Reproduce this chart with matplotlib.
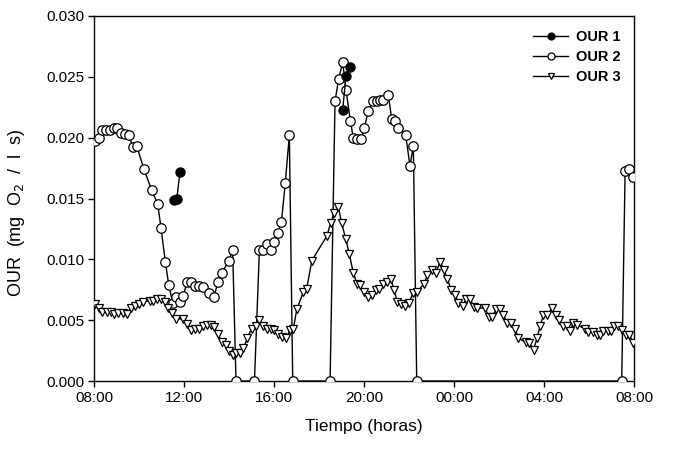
import numpy as np
import matplotlib.pyplot as plt

plt.rcParams['font.family'] = ['Liberation Sans', 'DejaVu Sans']

# Horas transcurridas desde las 08:00
t_our1 = [3.55, 3.68, 3.82, np.nan, 11.05, 11.20, 11.39]
our1 = [0.0149, 0.0150, 0.0172, np.nan, 0.0223, 0.0251, 0.0258]

t_our2 = [0.04, 0.22, 0.37, 0.53, 0.71, 0.89, 1.04, 1.18, 1.36, 1.56, 1.72, 1.90,
          2.22, 2.56, 2.83, 2.98, 3.17, 3.32, 3.50, 3.64, 3.82, 3.97, 4.12, 4.31,
          4.49, 4.65, 4.83, 5.12, 5.33, 5.50, 5.68, 6.00, 6.16, 6.31, 7.13, 7.35,
          7.53, 7.70, 7.85, 8.00, 8.18, 8.33, 8.50, 8.68, 8.83, 10.49, 10.71, 10.87,
          11.05, 11.20, 11.39, 11.52, 11.70, 11.87, 12.01, 12.19, 12.38, 12.56, 12.71,
          12.86, 13.08, 13.23, 13.38, 13.53, 13.85, 14.04, 14.19, 14.34, 23.45, 23.60,
          23.79, 23.97]
our2 = [0.0197, 0.0200, 0.0206, 0.0206, 0.0206, 0.0208, 0.0208, 0.0204, 0.0203, 0.0202,
        0.0192, 0.0193, 0.0174, 0.0157, 0.01455, 0.01255, 0.0098, 0.0079, 0.0064, 0.0069,
        0.0065, 0.0070, 0.0081, 0.0081, 0.0078, 0.0078, 0.0077, 0.0072, 0.0069, 0.0081,
        0.0089, 0.0099, 0.0108, 0.0, 0.0, 0.0108, 0.0108, 0.0113, 0.0108, 0.0114,
        0.0122, 0.0131, 0.0163, 0.0202, 0.0, 0.0, 0.0230, 0.0248, 0.0262, 0.0239,
        0.0214, 0.0200, 0.0199, 0.0199, 0.0208, 0.0222, 0.0230, 0.0230, 0.0231, 0.0231,
        0.0235, 0.0215, 0.0214, 0.0208, 0.0202, 0.0177, 0.0193, 0.0, 0.0, 0.0173,
        0.0174, 0.0168]

t_our3 = [0.04, 0.22, 0.37, 0.56, 0.74, 0.90, 1.08, 1.27, 1.45, 1.63, 1.82, 2.00,
          2.19, 2.49, 2.64, 2.81, 2.98, 3.16, 3.30, 3.48, 3.64, 3.97, 4.12, 4.31,
          4.49, 4.65, 4.83, 5.00, 5.19, 5.33, 5.50, 5.68, 5.85, 6.00, 6.16, 6.31,
          6.49, 6.64, 6.81, 7.00, 7.19, 7.32, 7.50, 7.68, 7.85, 8.00, 8.18, 8.36,
          8.53, 8.71, 8.86, 9.01, 9.30, 9.45, 9.68, 10.34, 10.52, 10.67, 10.86, 11.00,
          11.19, 11.35, 11.52, 11.68, 11.82, 12.00, 12.19, 12.34, 12.52, 12.68, 12.86,
          13.04, 13.19, 13.33, 13.48, 13.64, 13.82, 14.00, 14.16, 14.34, 14.67, 14.81,
          15.00, 15.19, 15.38, 15.56, 15.70, 15.87, 16.04, 16.19, 16.39, 16.53, 16.71,
          16.89, 17.04, 17.38, 17.53, 17.70, 17.87, 18.04, 18.19, 18.37, 18.53, 18.71,
          18.86, 19.19, 19.35, 19.53, 19.68, 19.82, 19.97, 20.15, 20.34, 20.52, 20.67,
          20.83, 21.00, 21.16, 21.30, 21.48, 21.82, 21.97, 22.16, 22.34, 22.49, 22.64,
          22.82, 22.96, 23.12, 23.30, 23.48, 23.64, 23.79, 23.97]
our3 = [0.0063, 0.0060, 0.0057, 0.0057, 0.0057, 0.0055, 0.0056, 0.0056, 0.0055, 0.0060,
        0.0062, 0.0063, 0.0065, 0.0066, 0.0066, 0.0067, 0.0067, 0.0065, 0.0060, 0.0056,
        0.0051, 0.0051, 0.0047, 0.0042, 0.0043, 0.0043, 0.00455, 0.0046, 0.0046, 0.0044,
        0.0039, 0.0032, 0.0030, 0.0025, 0.0021, 0.0023, 0.0023, 0.0027, 0.0035, 0.0043,
        0.0045, 0.0050, 0.0045, 0.0043, 0.0043, 0.0042, 0.0039, 0.0036, 0.0035, 0.0042,
        0.0043, 0.0059, 0.0073, 0.0076, 0.0099, 0.0119, 0.0130, 0.0138, 0.0143, 0.0130,
        0.01165, 0.0104, 0.0089, 0.0080, 0.0079, 0.0073, 0.0069, 0.0071, 0.0075, 0.0076,
        0.0080, 0.0081, 0.0084, 0.0075, 0.0065, 0.0063, 0.0062, 0.0064, 0.0072, 0.0073,
        0.0080, 0.0087, 0.0091, 0.0089, 0.0098, 0.0091, 0.0084, 0.0075, 0.0071, 0.0064,
        0.0062, 0.0067, 0.0067, 0.0061, 0.0060, 0.0060, 0.0053, 0.0053, 0.0059, 0.0059,
        0.0054, 0.0048, 0.0048, 0.0043, 0.0035, 0.0032, 0.0031, 0.00255, 0.0035, 0.0045,
        0.0054, 0.0054, 0.0060, 0.0054, 0.0050, 0.0045, 0.0045, 0.0041, 0.0048, 0.0046,
        0.0043, 0.0040, 0.0040, 0.0038, 0.0038, 0.0041, 0.0041, 0.0041, 0.0045, 0.0045,
        0.0042, 0.0038, 0.0038, 0.0031]

hour_ticks = [0, 4, 8, 12, 16, 20, 24]
hour_labels = ['08:00', '12:00', '16:00', '20:00', '00:00', '04:00', '08:00']

fig = plt.figure(figsize=(6.73, 4.61), dpi=100)
ax = fig.add_axes([0.1397, 0.1735, 0.8025, 0.7918])

ax.plot(t_our1, our1, '-o', color='black', mfc='black', mec='black',
        ms=6.5, lw=1.0, label='OUR 1', zorder=4)
ax.plot(t_our2, our2, '-o', color='black', mfc='white', mec='black',
        ms=6.8, lw=1.0, mew=0.9, label='OUR 2', zorder=3)
ax.plot(t_our3, our3, '-v', color='black', mfc='white', mec='black',
        ms=5.8, lw=1.0, mew=0.9, label='OUR 3', zorder=3)

ax.set_xlim(0, 24)
ax.set_ylim(0, 0.030)
ax.set_xticks(hour_ticks)
ax.set_xticklabels(hour_labels)
ax.set_yticks(np.arange(0, 0.0301, 0.005))
ax.yaxis.set_major_formatter(plt.FormatStrFormatter('%.3f'))
ax.tick_params(direction='out', length=4, width=1, labelsize=11, colors='black', pad=3)

for s in ax.spines.values():
    s.set_linewidth(1.0)

ax.set_xlabel('Tiempo (horas)', fontsize=12.5, labelpad=10)
ax.set_ylabel('OUR  (mg  O$_2$  /  l  s)', fontsize=13)
ax.yaxis.set_label_coords(-0.125, 0.46)

leg = ax.legend(loc='upper left', frameon=False, fontsize=10.5, handlelength=2.4,
                handletextpad=0.55, borderaxespad=0, borderpad=0, labelspacing=0.42,
                markerscale=0.75, bbox_to_anchor=(0.813, 0.962))
for txt in leg.get_texts():
    txt.set_fontweight('bold')

fig.savefig('out.png', dpi=100)
